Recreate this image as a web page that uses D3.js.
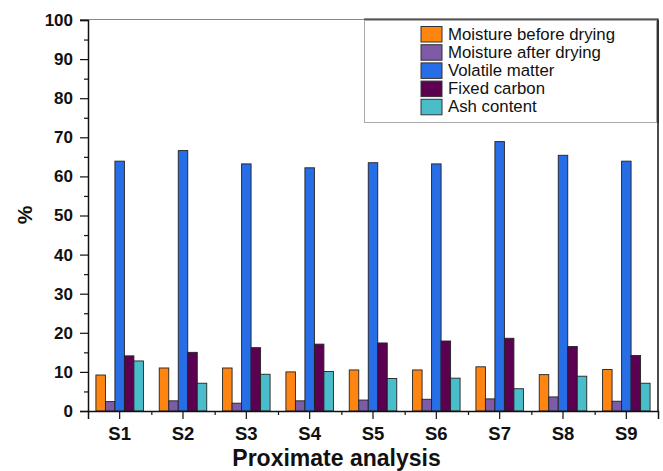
<!DOCTYPE html>
<html>
<head>
<meta charset="utf-8">
<script src="https://cdn.jsdelivr.net/npm/d3@7"></script>
<style>
body{margin:0;background:#fff;}
text{font-family:"Liberation Sans",Arial,sans-serif;}
</style>
</head>
<body>
<script>
const samples=["S1","S2","S3","S4","S5","S6","S7","S8","S9"];
const seriesNames=["Moisture before drying","Moisture after drying","Volatile matter","Fixed carbon","Ash content"];
const moistureBefore=[9.2,11.0,11.0,10.0,10.5,10.5,11.3,9.3,10.6];
const moistureAfter=[2.4,2.6,2.0,2.6,2.8,3.0,3.1,3.6,2.5];
const volatileMatter=[63.9,66.6,63.2,62.2,63.5,63.2,68.9,65.4,63.9];
const fixedCarbon=[14.1,15.0,16.2,17.1,17.4,17.9,18.6,16.5,14.2];
const ashContent=[12.8,7.1,9.4,10.1,8.3,8.4,5.7,8.9,7.1];
const yTicks=[0,10,20,30,40,50,60,70,80,90,100];

const W=663,H=471,
padL=88,padR=658,padT=20,padB=411,
colors=["#ff8512","#7d5ba6","#266de6","#5c0052","#4abdcb"];

const values=[moistureBefore,moistureAfter,volatileMatter,fixedCarbon,ashContent];
const rows=samples.map((s,i)=>({sample:s,vals:values.map(v=>v[i])}));

const svg=d3.select("body").append("svg")
  .attr("width",W).attr("height",H);

const x=d3.scaleBand().domain(samples).range([padL,padR]);
const bw=x.bandwidth();
const xs=d3.scaleBand().domain(d3.range(5)).range([bw*0.125,bw*0.875]);
const y=d3.scaleLinear().domain([0,100]).range([padB,padT]);

// bars
const groups=svg.selectAll("g.grp").data(rows).enter().append("g")
  .attr("class","grp")
  .attr("transform",d=>`translate(${x(d.sample)},0)`);

groups.selectAll("rect").data(d=>d.vals).enter().append("rect")
  .attr("x",(d,i)=>xs(i))
  .attr("width",xs.bandwidth())
  .attr("y",d=>y(d))
  .attr("height",d=>y(0)-y(d))
  .attr("fill",(d,i)=>colors[i])
  .attr("stroke","#222")
  .attr("stroke-width",0.9);

// frame
svg.append("line").attr("x1",padL-8).attr("x2",padR).attr("y1",padT-0.5).attr("y2",padT-0.5)
  .attr("stroke","#888").attr("stroke-width",1);
svg.append("line").attr("x1",padR).attr("x2",padR).attr("y1",padT).attr("y2",padB)
  .attr("stroke","#111").attr("stroke-width",1.5);

// y axis
const yAxis=d3.axisLeft(y).tickValues(yTicks).tickSize(8).tickPadding(7);
const gy=svg.append("g").attr("transform",`translate(${padL},0)`).call(yAxis);
gy.select(".domain").attr("stroke","#111").attr("stroke-width",1.5);
gy.selectAll(".tick line").attr("stroke","#111").attr("stroke-width",1.2);
gy.selectAll(".tick text").attr("font-size",17).attr("font-weight","bold").attr("fill","#111");

const yMinor=d3.axisLeft(y).tickValues(d3.range(5,100,10)).tickSize(4).tickFormat("");
const gym=svg.append("g").attr("transform",`translate(${padL},0)`).call(yMinor);
gym.select(".domain").remove();
gym.selectAll(".tick line").attr("stroke","#111").attr("stroke-width",1.2);

// x axis
const xAxis=d3.axisBottom(x).tickSize(8).tickPadding(8);
const gx=svg.append("g").attr("transform",`translate(0,${padB})`).call(xAxis);
gx.select(".domain").attr("stroke","#111").attr("stroke-width",1.5);
gx.selectAll(".tick line").attr("stroke","#111").attr("stroke-width",1.2);
gx.selectAll(".tick text").attr("font-size",18.5).attr("font-weight","bold").attr("fill","#111");

const xMinor=d3.axisBottom(d3.scaleLinear().domain([0,9]).range([padL,padR]))
  .tickValues(d3.range(1,9)).tickSize(4).tickFormat("");
const gxm=svg.append("g").attr("transform",`translate(0,${padB})`).call(xMinor);
gxm.select(".domain").remove();
gxm.selectAll(".tick line").attr("stroke","#111").attr("stroke-width",1.2);

// axis titles
svg.append("text")
  .attr("x",336.5).attr("y",466)
  .attr("text-anchor","middle")
  .attr("font-size",23).attr("font-weight","bold").attr("fill","#111")
  .text("Proximate analysis");

svg.append("text")
  .attr("transform",`translate(32,215) rotate(-90)`)
  .attr("text-anchor","middle")
  .attr("font-size",21).attr("font-weight","bold").attr("fill","#111")
  .text("%");

// legend
const lg=svg.append("g").attr("id","legend");
lg.append("rect").attr("x",364.5).attr("y",20.5).attr("width",292).attr("height",102)
  .attr("fill","#fff").attr("stroke","#aaa").attr("stroke-width",1);
lg.append("path").attr("d","M364,19 H658 V123").attr("fill","none")
  .attr("stroke","#222").attr("stroke-width",1.2);

const item=lg.selectAll("g.item").data(seriesNames).enter().append("g")
  .attr("class","item")
  .attr("transform",(d,i)=>`translate(421,${26.5+i*18.2})`);
item.append("rect").attr("width",21).attr("height",15.5)
  .attr("fill",(d,i)=>colors[i]).attr("stroke","#333").attr("stroke-width",1);
item.append("text").attr("x",27).attr("y",13)
  .attr("font-size",16.8).attr("fill","#111")
  .text(d=>d);
</script>
</body>
</html>
